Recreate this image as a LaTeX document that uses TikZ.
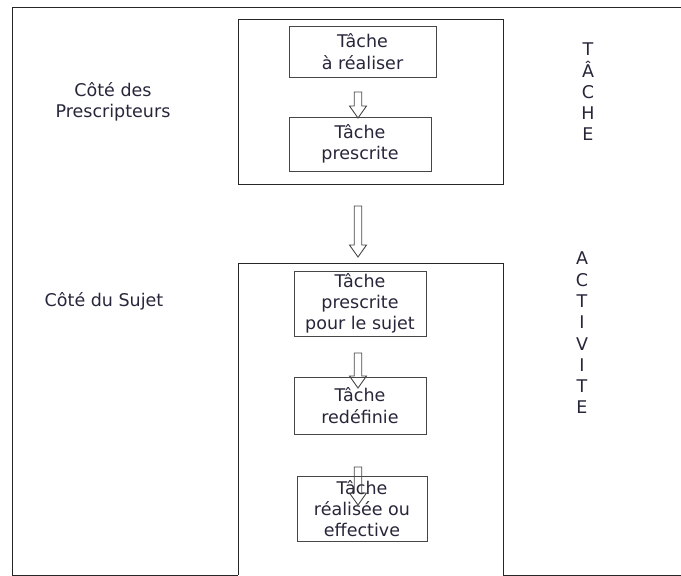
\documentclass[tikz,border=0pt]{standalone}
\usepackage{xcolor}
\usepackage{fontspec}
\setmainfont{DejaVu Sans}
\usepackage{tikz}
\usetikzlibrary{calc, positioning}

\definecolor{inkcol}{RGB}{38,38,58}
\definecolor{linecol}{RGB}{70,70,70}

% hollow block arrow, pointing down, from tail #1 to tip #2
\newcommand{\hollowarrow}[2]{%
  \draw[linecol, line width=0.9pt, line join=miter]
    ($(#1)+(-3.75,0)$) -- ($(#2)+(-3.75,-12)$) -- ($(#2)+(-8.5,-12)$) -- (#2)
    -- ($(#2)+(8.5,-12)$) -- ($(#2)+(3.75,-12)$) -- ($(#1)+(3.75,0)$) -- cycle;}

\begin{document}
\begin{tikzpicture}[x=1pt, y=-1pt, font=\fontsize{17.5}{21.3}\selectfont, text=inkcol]
    \tikzstyle{cell} = [rectangle, draw=linecol, line width=0.9pt, align=center, inner sep=0pt]
    \tikzstyle{frame} = [draw=black!85, line width=0.9pt]
    \useasboundingbox (0,0) rectangle (681,576);

    % outer frame and the two zones
    \draw[frame] (681,7) -- (12,7) -- (12,575) -- (238,575);
    \draw[frame] (503,575) -- (681,575);
    \draw[frame] (238,19) rectangle (503,184);
    \draw[frame] (238,575) -- (238,263) -- (503,263) -- (503,575);

    % side labels
    \node (presc) [align=center] at (113,102) {Côté des\\Prescripteurs};
    \node (sujet) at (104,301) {Côté du Sujet};
    \node (tache) [align=center] at (588,92) {T\\Â\\C\\H\\E};
    \node (activ) [align=center] at (582,333) {A\\C\\T\\I\\V\\I\\T\\E};

    % task boxes
    \node (realiser) [cell, minimum width=147, minimum height=51] at (362.5,51.5) {Tâche\\à réaliser};
    \node (prescrite) [cell, minimum width=142, minimum height=54] at (360,144) {Tâche\\prescrite};
    \node (poursujet) [cell, minimum width=132, minimum height=65] at (360,303.5) {Tâche\\prescrite\\pour le sujet};
    \node (redefinie) [cell, minimum width=132, minimum height=57] at (360,405.5) {Tâche\\redéfinie};
    \node (effective) [cell, minimum width=130, minimum height=65] at (362,508.5) {Tâche\\réalisée ou\\effective};

    % arrows
    \coordinate (a1t) at (358,92);
    \coordinate (a1h) at (358,118);
    \coordinate (a2t) at (358,206);
    \coordinate (a2h) at (358,257);
    \coordinate (a3t) at (358,353);
    \coordinate (a3h) at (358,388);
    \coordinate (a4t) at (358,467);
    \coordinate (a4h) at (358,505);
    \hollowarrow{a1t}{a1h}
    \hollowarrow{a2t}{a2h}
    \hollowarrow{a3t}{a3h}
    \hollowarrow{a4t}{a4h}
\end{tikzpicture}
\end{document}
